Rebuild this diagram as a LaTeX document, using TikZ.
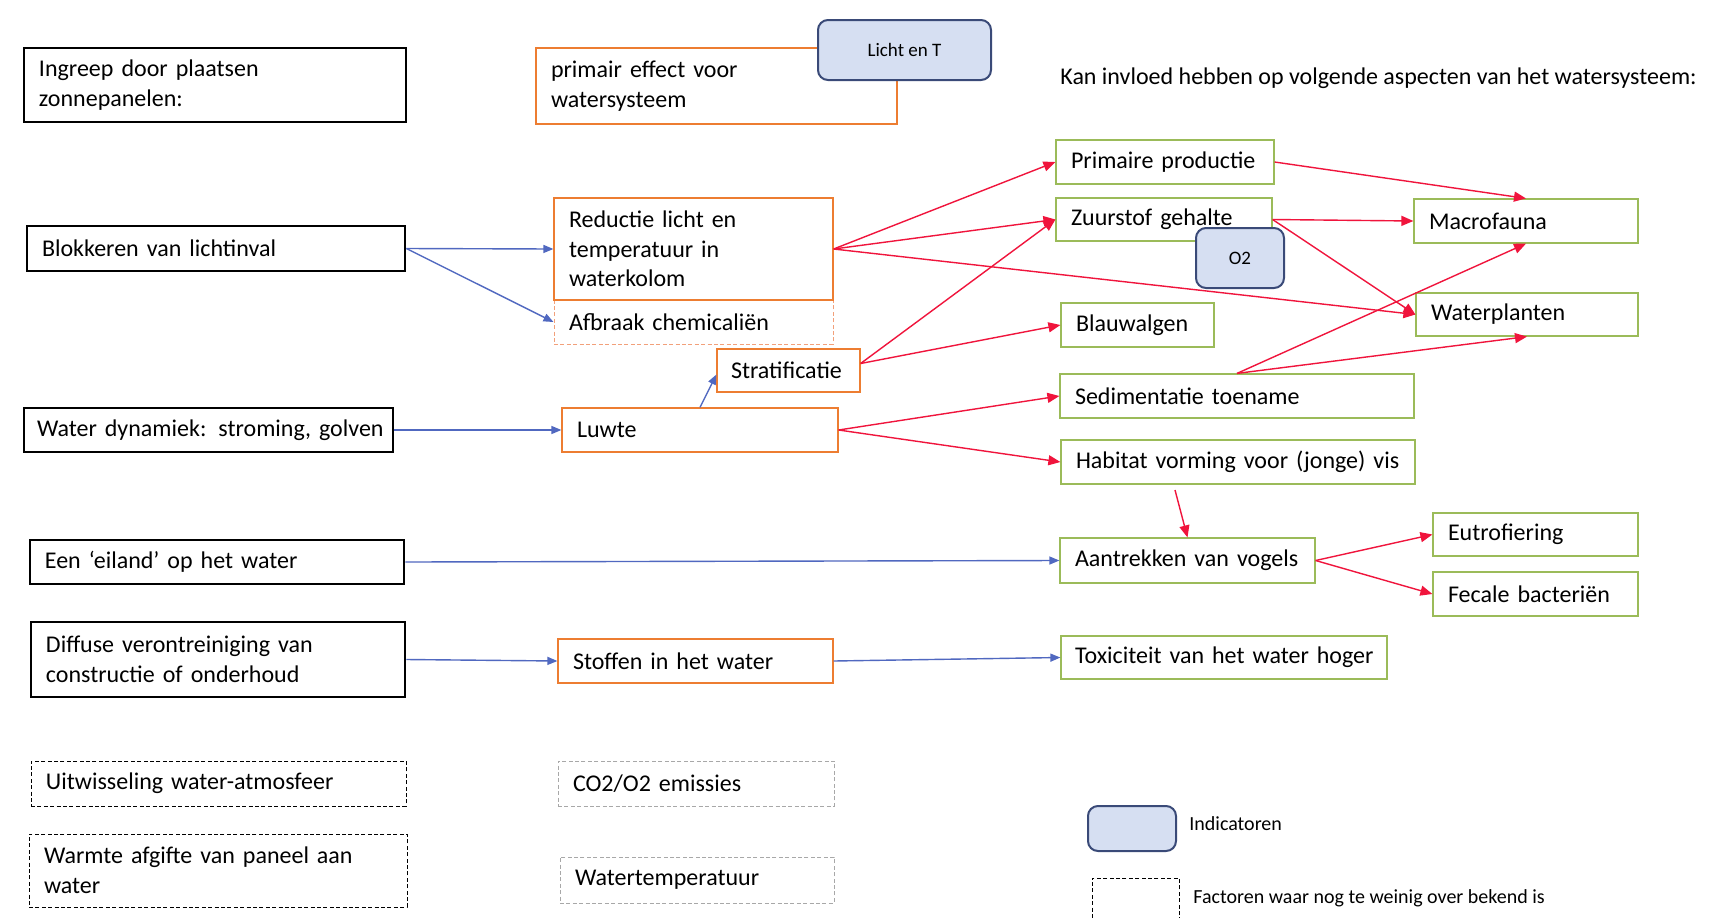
\documentclass[tikz,border=0pt]{standalone}
\usepackage{fontspec}
\setmainfont{Carlito}
\usetikzlibrary{arrows.meta}
\hyphenpenalty=10000
\definecolor{orng}{HTML}{ED7D31}
\definecolor{grn}{HTML}{9BBB59}
\definecolor{blu}{HTML}{5068C0}
\definecolor{rd}{HTML}{F0143C}
\definecolor{indfill}{HTML}{D6DFF2}
\definecolor{inddraw}{HTML}{3A4A78}
\definecolor{dashgray}{HTML}{A8A8A8}
\definecolor{dashorange}{HTML}{F2A07A}
\begin{document}
\begin{tikzpicture}[x=0.5pt,y=-0.5pt,
 every node/.style={font=\fontsize{12}{14.8}\selectfont, inner xsep=7.5pt, inner ysep=0pt, align=left},
 blackbox/.style={draw=black, line width=1.4pt},
 orangebox/.style={draw=orng, line width=0.6pt},
 primbox/.style={draw=orng, line width=1.2pt},
 greenbox/.style={draw=grn, line width=0.6pt},
 unkbox/.style={draw=black, line width=0.5pt, dash pattern=on 2pt off 1.2pt},
 unkgray/.style={draw=dashgray, line width=0.5pt, dash pattern=on 2pt off 1.2pt},
 unkorange/.style={draw=dashorange, line width=0.5pt, dash pattern=on 2pt off 1.2pt},
 indbox/.style={draw=inddraw, fill=indfill, line width=1pt, rounded corners=5pt, align=center, inner xsep=0pt, font=\fontsize{9.5}{11}\selectfont},
 legtext/.style={anchor=west, inner xsep=0pt, font=\fontsize{10}{12}\selectfont},
 bluearrow/.style={draw=blu, line width=0.7pt, -{Triangle[length=5pt,width=4pt]}},
 redarrow/.style={draw=rd, line width=0.7pt, -{Triangle[length=6pt,width=5pt]}},
]
\fill[white] (0,0) rectangle (1721,917);
\useasboundingbox (0,0) rectangle (1721,917);

% left column
\node[blackbox, text width=176pt, minimum height=37pt] (ingreep) at (215,85) {Ingreep door plaatsen\\zonnepanelen:};
\node[blackbox, text width=174pt, minimum height=22.5pt] (blok) at (216,248.5) {Blokkeren van lichtinval};
\node[blackbox, text width=171.5pt, minimum height=22pt, inner xsep=6.5pt] (dyn) at (208.5,430) {\mbox{Water dynamiek: stroming, golven}};
\node[blackbox, text width=172pt, minimum height=22pt] (eiland) at (217,562) {Een ‘eiland’ op het water};
\node[blackbox, text width=172pt, minimum height=37.5pt] (diffuse) at (218,659.5) {Diffuse verontreiniging van\\constructie of onderhoud};
\node[unkbox, text width=172.5pt, minimum height=22.5pt] (uitw) at (218.5,783.5) {Uitwisseling water-atmosfeer};
\node[unkbox, text width=174pt, minimum height=36.5pt] (warmte) at (218,870.5) {Warmte afgifte van paneel aan\\water};

% middle column
\node[primbox, text width=165.5pt, minimum height=38pt] (primair) at (716.5,86) {primair effect voor\\watersysteem};
\node[indbox, minimum width=86.5pt, minimum height=30pt] (licht) at (904.5,50) {Licht en T};
\node[unkorange, text width=124.5pt, minimum height=22pt] (afbraak) at (693.5,322) {Afbraak chemicaliën};
\node[orangebox, text width=124.5pt, minimum height=51pt] (reductie) at (693.5,249) {Reductie licht en\\temperatuur in\\waterkolom};
\node[orangebox, text width=57.5pt, minimum height=21.5pt, inner xsep=7pt] (strat) at (788.5,370.5) {\mbox{Stratificatie}};
\node[orangebox, text width=123pt, minimum height=22pt] (luwte) at (700,430) {Luwte};
\node[orangebox, text width=122.5pt, minimum height=22pt] (stoffen) at (695.5,661) {Stoffen in het water};
\node[unkgray, text width=123pt, minimum height=22.5pt] (co2) at (696,783.5) {CO2/O2 emissies};
\node[unkgray, text width=122pt, minimum height=23pt] (wtemp) at (697,880) {Watertemperatuur};

% right side
\node[anchor=west, inner xsep=0pt] (header) at (1060,78) {Kan invloed hebben op volgende aspecten van het watersysteem:};
\node[greenbox, text width=94pt, minimum height=22pt] (pp) at (1165,162) {\mbox{Primaire productie}};
\node[greenbox, text width=93pt, minimum height=21.5pt] (zs) at (1164,219.5) {Zuurstof gehalte};
\node[greenbox, text width=61.5pt, minimum height=22pt] (blauw) at (1137.5,325) {Blauwalgen};
\node[greenbox, text width=162pt, minimum height=22pt] (sed) at (1237,396) {Sedimentatie toename};
\node[greenbox, text width=162pt, minimum height=22pt] (hab) at (1238,462) {\mbox{Habitat vorming voor (jonge) vis}};
\node[greenbox, text width=112.5pt, minimum height=22.5pt] (vogels) at (1187.5,560.5) {\mbox{Aantrekken van vogels}};
\node[greenbox, text width=149pt, minimum height=21.5pt, inner xsep=7pt] (tox) at (1224,657.5) {\mbox{Toxiciteit van het water hoger}};
\node[greenbox, text width=97pt, minimum height=22pt] (macro) at (1526,221) {Macrofauna};
\node[greenbox, text width=96pt, minimum height=21.5pt] (wp) at (1527,314.5) {Waterplanten};
\node[greenbox, text width=87.5pt, minimum height=21.5pt] (eutro) at (1535.5,534.5) {Eutrofiering};
\node[greenbox, text width=87.5pt, minimum height=22pt] (fecale) at (1535.5,594) {Fecale bacteriën};

% legend
\node[indbox, minimum width=44pt, minimum height=22.5pt] (legind) at (1132,828.5) {};
\node[legtext] (legindtxt) at (1189,824) {Indicatoren};
\node[unkbox, minimum width=43.5pt, minimum height=23pt, inner sep=0pt] (legunk) at (1135.5,901) {};
\node[legtext] (legunktxt) at (1193,898) {Factoren waar nog te weinig over bekend is};

% blue arrows
\draw[bluearrow] (blok.east) -- (reductie.west);
\draw[bluearrow] (blok.east) -- (afbraak.west);
\draw[bluearrow] (dyn.east) -- (luwte.west);
\draw[bluearrow] (luwte.north) -- ([yshift=-2pt]strat.west);
\draw[bluearrow] (eiland.east) -- (vogels.west);
\draw[bluearrow] (diffuse.east) -- (stoffen.west);
\draw[bluearrow] (stoffen.east) -- (tox.west);

% red arrows
\coordinate (habout) at (1175,490);
\draw[redarrow] (reductie.east) -- (pp.west);
\draw[redarrow] (reductie.east) -- (zs.west);
\draw[redarrow] (reductie.east) -- (wp.west);
\draw[redarrow] ([yshift=3.5pt]strat.east) -- (zs.west);
\draw[redarrow] ([yshift=3.5pt]strat.east) -- (blauw.west);
\draw[redarrow] (pp.east) -- (macro.north);
\draw[redarrow] (zs.east) -- (macro.west);
\draw[redarrow] (zs.east) -- (wp.west);
\draw[redarrow] (sed.north) -- (macro.south);
\draw[redarrow] (sed.north) -- (wp.south);
\draw[redarrow] (luwte.east) -- (sed.west);
\draw[redarrow] (luwte.east) -- (hab.west);
\draw[redarrow] (habout) -- (vogels.north);
\draw[redarrow] (vogels.east) -- (eutro.west);
\draw[redarrow] (vogels.east) -- (fecale.west);

% indicator on top
\node[indbox, minimum width=44pt, minimum height=30pt] (o2) at (1240,258) {O2};
\end{tikzpicture}
\end{document}
